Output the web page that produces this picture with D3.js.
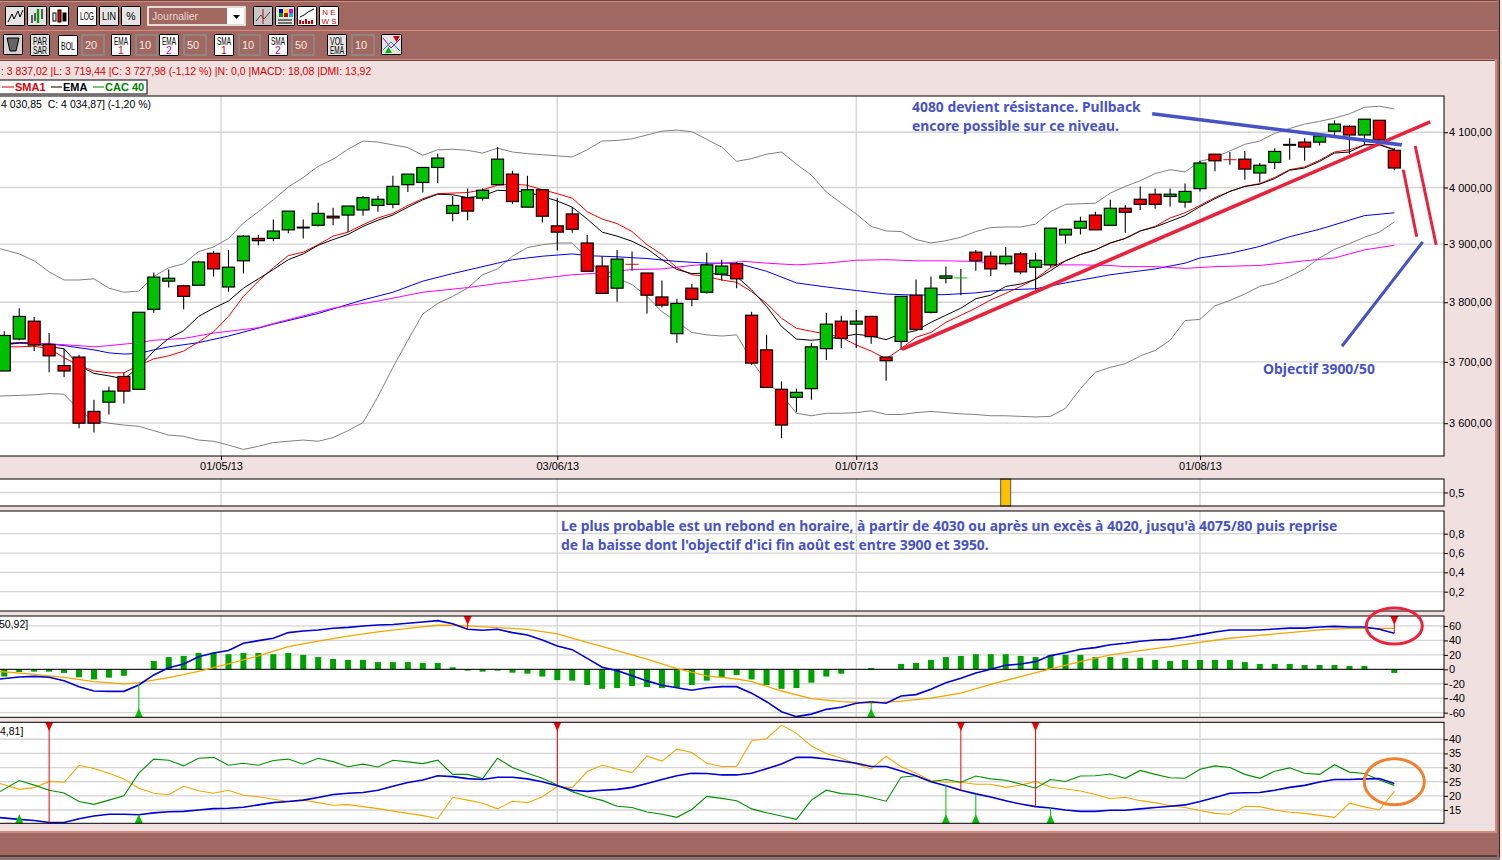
<!DOCTYPE html>
<html>
<head>
<meta charset="utf-8">
<title>CAC 40</title>
<script src="https://cdn.jsdelivr.net/npm/d3@7"></script>
<style>
  html, body { margin: 0; padding: 0; background: #f0e0e0; overflow: hidden; }
  text { font-family: "Liberation Sans", Arial, sans-serif; }
  .note { font-family: "Noto Sans", sans-serif; font-weight: 700; font-size: 13.9px; fill: #4652c6; }
  .axis path { display: none; }
  .axis line { stroke: #000; }
  .axis text { font-size: 11px; fill: #000; font-family: "Liberation Sans", Arial, sans-serif; }
</style>
</head>
<body>
<div id="chart"></div>
<script>
// prices
const open = [3685,3738,3768,3729,3694,3708,3619,3634,3676,3655,
  3788,3836,3828,3829,3884,3826,3871,3910,3910,3925,
  3929,3933,3949,3951,3960,3968,3970,4005,4009,4036,
  3954,3982,3981,4005,4024,3965,3996,3932,3953,3902,
  3862,3824,3866,3850,3809,3747,3824,3817,3848,3866,
  3778,3720,3655,3642,3656,3722,3768,3763,3776,3708,
  3734,3812,3783,3841,3841,3886,3879,3866,3883,3860,
  3864,3916,3928,3951,3933,3963,3979,3988,3984,3974,
  3998,4060,4051,4051,4026,4045,4077,4082,4082,4102,
  4111,4095,4122,4067];
const high = [3751,3790,3775,3748,3722,3712,3638,3659,3682,3783,
  3851,3856,3830,3871,3888,3890,3916,3916,3943,3958,
  3943,3973,3964,3967,3985,3985,4021,4024,4036,4061,
  3985,3998,3998,4073,4030,4021,3996,3981,3965,3916,
  3879,3890,3887,3850,3837,3806,3831,3885,3873,3869,
  3784,3745,3668,3656,3731,3782,3777,3787,3776,3708,
  3810,3839,3844,3861,3857,3890,3887,3895,3886,3885,
  3928,3926,3948,3957,3978,3969,4002,3998,3998,4007,
  4048,4060,4064,4066,4044,4071,4089,4089,4093,4122,
  4113,4124,4122,4071];
const low = [3685,3736,3718,3683,3675,3592,3585,3614,3632,3655,
  3782,3825,3788,3829,3844,3818,3849,3898,3905,3919,
  3910,3931,3933,3921,3950,3957,3963,3992,3991,4008,
  3940,3942,3977,4005,3971,3965,3938,3889,3920,3853,
  3815,3801,3854,3781,3791,3732,3793,3815,3837,3824,
  3695,3658,3576,3618,3638,3703,3723,3723,3730,3669,
  3720,3754,3781,3832,3812,3854,3845,3863,3848,3821,
  3860,3901,3917,3925,3933,3920,3960,3962,3966,3964,
  3993,4029,4041,4014,4009,4033,4050,4048,4076,4093,
  4060,4077,4082,4031];
const close = [3744,3776,3728,3710,3685,3600,3600,3652,3652,3783,
  3843,3841,3810,3869,3857,3860,3914,3906,3923,3958,
  3929,3954,3946,3967,3982,3979,4002,4024,4036,4053,
  3968,3958,3995,4051,3975,3996,3949,3921,3926,3853,
  3815,3874,3865,3812,3795,3798,3805,3864,3862,3840,
  3698,3658,3597,3650,3725,3763,3739,3768,3742,3702,
  3810,3754,3824,3845,3841.5,3871,3857,3879,3852,3872,
  3928,3926,3940,3925,3963,3956,3970,3970,3988,3993,
  4044,4048,4050,4033,4040,4065,4077,4073,4093,4115,
  4095,4124,4086,4035];

// bollinger 20
const bollUpper = [3892,3883,3871,3852,3838,3838,3840,3824,3817,3819,
  3844,3859,3866,3887,3895,3910,3937,3957,3978,4001,
  4018,4038,4051,4069,4084,4082,4077,4072,4058,4068,
  4069,4067,4062,4071,4064,4061,4059,4057,4055,4068,
  4084,4085,4088,4095,4102,4104,4101,4087,4073,4047,
  4052,4060,4064,4042,4022,3992,3972,3953,3931,3923,
  3922,3908,3902,3906,3912,3922,3929,3930,3930,3935,
  3957,3970,3971,3972,3990,4002,4012,4025,4032,4028,
  4047,4054,4066,4078,4084,4098,4107,4115,4120,4126,
  4134,4146,4148,4143];
const bollLower = [3644,3645,3646,3648,3647,3621,3604,3600,3597,3595,
  3588,3581,3579,3573,3571,3565,3558,3563,3569,3571,
  3573,3571,3577,3588,3601,3643,3691,3736,3780,3798,
  3810,3824,3847,3857,3879,3894,3899,3902,3902,3876,
  3847,3841,3830,3810,3784,3767,3749,3745,3743,3745,
  3702,3667,3646,3616,3612,3616,3616,3617,3620,3614,
  3614,3617,3619,3617,3615,3614,3612,3612,3611,3610,
  3611,3624,3656,3683,3691,3697,3710,3719,3736,3769,
  3771,3794,3803,3814,3827,3833,3844,3857,3876,3891,
  3901,3912,3921,3939];

// moving averages 10
const sma10 = [3725,3725,3726,3722,3707,3694,3685,3682,3682,3694,
  3705,3710,3718,3733,3750,3776,3810,3836,3859,3880,
  3886,3899,3914,3921,3934,3946,3954,3968,3980,3989,
  3990,3991,3996,4004,4006,4004,3996,3989,3981,3957,
  3944,3936,3922,3899,3882,3859,3847,3844,3838,3834,
  3818,3798,3773,3756,3751,3746,3741,3728,3718,3705,
  3722,3741,3749,3766,3778,3790,3804,3815,3827,3840,
  3859,3871,3882,3890,3902,3910,3923,3931,3946,3955,
  3968,3982,3993,4002,4007,4018,4032,4037,4049,4064,
  4068,4077,4078,4069];
const ema10 = [3728,3732,3731,3725,3722,3694,3681,3677,3672,3691,
  3718,3739,3752,3776,3790,3802,3824,3840,3856,3873,
  3883,3898,3908,3917,3931,3942,3951,3965,3978,3988,
  3987,3982,3985,3995,3994,3992,3984,3976,3965,3944,
  3921,3914,3905,3892,3873,3856,3849,3850,3847,3844,
  3821,3793,3759,3738,3736,3738,3742,3746,3743,3737,
  3747,3752,3766,3778,3790,3806,3812,3827,3831,3839,
  3854,3871,3882,3890,3902,3910,3923,3930,3940,3950,
  3966,3980,3993,4002,4006,4016,4031,4035,4047,4062,
  4064,4077,4077,4068];

// moving averages 50, read every few days
const ema50Idx = [0,1,3,4,6,7,8,9,10,11,13,15,18,21,24,26,28,30,33,34,36,38,39,41,43,45,47,49,51,53,55,57,59,61,63,65,66,67,69,71,74,77,79,80,82,84,86,88,90,91,93];
const ema50 = [3728,3731,3730,3727,3720,3715,3713,3714,3720,3725,3732,3743,3763,3781,3804,3817,3836,3849,3867,3873,3879,3883,3880,3878,3875,3870,3867,3867,3853,3833,3826,3820,3814,3812,3813,3816,3819,3821,3823,3833,3847,3857,3867,3876,3884,3896,3913,3926,3942,3950,3955];
const sma50Idx = [0,1,2,3,5,6,7,9,10,12,14,17,18,22,25,28,31,33,36,38,40,42,44,46,48,49.5,51,53,55,57,59,61,63,65,66,68,70,72,74,75,77,79,81,84,87,89,91,93];
const sma50 = [3731,3732,3731,3730,3727,3725,3727,3732,3736,3739,3748,3757,3764,3790,3802,3817,3825,3832,3841,3847,3850,3856,3857,3863,3867,3870,3867,3864,3867,3872,3873,3871,3871,3870,3867,3867,3864,3864,3863,3861,3861,3858,3861,3863,3871,3876,3890,3898];

// macd
const macdHist = [-10,-3.7,-3.2,-3.2,-5,-11,-14,-11.5,-9,0,
  11.5,17,18.5,22.6,23,21,22.6,22.6,21,22.6,
  20,17,14.3,13,13,10,10,10,8.8,8.8,
  2.8,-1.8,-3.2,-1.8,-4.6,-6,-10,-15,-15.7,-21.7,
  -27,-26,-23,-24.5,-26,-25,-21.7,-15.7,-11,-8,
  -14,-21.7,-27,-26,-18.5,-10,-6,0,1.8,0,
  7.4,8.8,13,17,18.5,21,21,21,18.5,17,
  20,20,20,17,17,15.7,16,13,11.5,13,
  13,13,13,10,7.4,7.4,7.4,6,6,6,
  4.6,4.6,0,-5];
const macdLine = [-13.4,-10.6,-9.7,-11,-15.7,-24,-30,-30.5,-30.5,-21.7,
  -7.8,2.3,7.4,17.5,22.6,26,36,39.7,43,50.8,
  53,54.5,56.8,58,60,61.4,62,63.7,65.5,67.4,
  63,55.4,54,55.4,50.8,47.5,40.6,32.3,27.2,15.2,
  2.8,-1.8,-8.8,-16,-22,-25.4,-29,-25.4,-24,-24,
  -33,-44.8,-58.6,-65.5,-62,-55.4,-52.6,-47,-44.8,-47,
  -37,-35,-27.7,-18.5,-12.5,-5,0,5.5,7.4,10.6,
  19,23,27.7,30,34,36,38.8,40.6,41.5,44.3,
  48,51.7,54.5,54.5,54.5,55.8,57,57,58.6,59.5,
  58.6,58.6,55.4,49.8];
const macdSigIdx = [0,2,4,6,8,9,11,13,15,17,19,21,23,25,27,29,30,31,33,35,37,39,41,43,45,47,49,50,52,54,56,58,60,62,64,66,68,70,72,74,76,78,80,82,84,86,88,90,93];
const macdSig = [-3,-7,-11,-17,-20,-18.5,-11.5,-2.8,7.4,18.5,31.4,39,46,51.7,56.8,61,61,60,57.7,55.4,49,37.4,26,14,1,-9,-13.4,-17,-30,-40.6,-44.8,-46.6,-44,-40,-33,-20.8,-10,0.5,10.6,20,26,31.4,37.4,43,47,50.8,54.5,56.8,56.8];

// dmi
const adx = [12.3,11.7,11.3,10.6,10.6,11.9,12.9,13.5,13.5,13.3,
  14,14.4,14.5,15,15.5,15.6,16,16.8,17.6,18,
  18.5,19.4,20.5,20.9,21.2,22,23.4,24.7,25.6,27.1,
  26.8,26.1,25.8,26.6,26.6,26,25,23.6,22,21.6,
  22,22.3,23,24.4,25.8,27.1,28,27.9,27.4,27.4,
  28,29.6,31.3,33.6,33.6,33,32.3,31.5,30.4,30.4,
  28.8,27.1,25,23.6,22,20.7,19.6,18.3,17.1,16.2,
  15.7,15,14.5,14.5,14.9,14.9,15.4,15.9,16.3,16.8,
  18,19.4,20.9,21.1,21.2,22,23,23.7,24.9,25.8,
  25.8,26,26.1,24.4];
const diPlus = [21.5,25.4,23.8,22,21,18,17,18.5,20,28,
  33,32.6,30.6,33.3,33.6,30.8,31.5,30.8,32.5,33,
  31.2,33.3,32.1,30.3,31.2,30.2,32.6,32,31.4,32.6,
  27.6,27.6,26.1,33.3,30,28,26.2,23.8,21.5,19.7,
  18.4,16.3,15.9,14.3,13.5,12.4,15.2,19.8,19.1,18.3,
  15.4,14,12.9,11.7,18.5,22,20.8,20.5,19.4,18.1,
  26.6,27.1,25,25.8,24.8,27,26,25.5,24.2,22.7,
  25.8,25.1,27,27.1,27.7,26.2,29,27.6,26.4,26.2,
  29.4,30.6,30,27.6,26.2,28.7,29.9,28,27.6,31,
  28.4,27.9,25.6,23.7];
const diMinus = [24.4,22.3,22.9,25.1,24.8,30.8,29.7,28,26,22.7,
  20.9,20.4,23.4,21.8,20.9,22,20.2,19.7,18.8,18,
  18.5,17.6,16.7,16.9,16.2,15.5,14.6,13.8,13,12,
  19.5,18.5,17.4,15.4,18.1,17.6,19.7,23.3,22.9,28.6,
  30.9,29.4,28.2,34.1,32.3,36.5,35.3,31.5,30.4,30.4,
  39.5,40.2,45,42.1,37.6,35,33.3,31.3,29.5,34,
  30.3,28,25.4,24.8,24.8,24.1,24.1,23,23.8,25.1,
  23.1,22.4,21.7,20.5,19,19.5,18.3,17.6,16.5,15.9,
  14.8,13.8,13.5,16.3,16.2,15,14.2,13.8,13.1,12.4,
  17.4,16.1,15,21.6];

// signals: candle index and the value the line reaches
const macdBuyIdx = [9,58], macdBuyVal = [-20,-44];
const macdSellIdx = [31,93], macdSellVal = [55,50];
const dmiBuyIdx = [1,9,63,65,70], dmiBuyVal = [13,13.3,24,20.7,16];
const dmiSellIdx = [3,37,64,69], dmiSellVal = [10.5,24,22,16.2];

// ticks
const dateTickIdx = [14.5,37,57,80];
const dateTickLabels = ["01/05/13","03/06/13","01/07/13","01/08/13"];
const priceTicks = [4100,4000,3900,3800,3700,3600];
const macdTicks = [60,40,20,0,-20,-40,-60];
const dmiTicks = [40,35,30,25,20,15];
const pane3Ticks = [0.8,0.6,0.4,0.2];

// hand drawn lines, as [candle index, price]
const trendUp = [[60.06,3721],[95.4,4119]];
const resist = [[76.8,4134],[93.5,4077]];
const dropA = [[93.6,4032],[94.5,3913]];
const dropB = [[94.4,4075],[95.8,3899]];
const target = [[89.5,3726],[94.9,3904]];

const width = 1502, height = 860, plotRight = 1444;
const fr = d3.format(".2f");
const frNum = v => {
  const s = fr(v).replace(".", ",");
  return s.length > 6 ? s[0] + " " + s.slice(1) : s;
};

const svg = d3.select("#chart").append("svg")
  .attr("width", width).attr("height", height)
  .style("display", "block");

svg.append("rect").attr("width", width).attr("height", height).attr("fill", "#f0e0e0");

const x = d3.scaleLinear().domain([0, 93]).range([4.3, 1394.3]);
const yPrice = d3.scaleLog().domain([3547.6, 4167]).range([456, 96]);
const yBar = d3.scaleLinear().domain([0, 1]).range([506, 479]);
const yEmpty = d3.scaleLinear().domain([0, 1.035]).range([611, 511]);
const yMacd = d3.scaleLinear().domain([-66.4, 73.8]).range([717.3, 616]);
const yDmi = d3.scaleLinear().domain([10.3, 46]).range([823.3, 722.3]);

// toolbars ------------------------------------------------------------
const chrome = svg.append("g");
const band = (x0, y0, w, h, c) => chrome.append("rect").attr("x", x0).attr("y", y0)
  .attr("width", w).attr("height", h).attr("fill", c);
band(0, 0, width, 60, "#a06860");
band(0, 0, width, 1, "#6f4a44");
band(0, 1, width, 1, "#d08a80");
band(0, 30, width, 1, "#d88a80");
band(0, 59, width, 1, "#d08a80");
band(0, 60, width, 1, "#6f4a44");
band(0, 831, width, 2, "#d08a80");
band(0, 833, width, 22, "#a06860");
band(0, 855, width, 2, "#5a3c38");
band(0, 857, width, 3, "#8a7472");
band(1495, 60, 2, 772, "#d08a80");
band(1497, 0, 2, 857, "#a06860");
band(1499, 0, 1, 857, "#3a2c2a");
band(1500, 0, 2, 860, "#efefef");
band(1400, 824, 94, 1, "#d8e4e4");

function button(x0, y0, w, h, lines, fill, colors) {
  const g = chrome.append("g").attr("transform", `translate(${x0},${y0})`);
  g.append("rect").attr("width", w).attr("height", h).attr("rx", 2).attr("fill", "#000");
  g.append("rect").attr("x", 1).attr("y", 1).attr("width", w - 2).attr("height", h - 2).attr("fill", fill || "#fff");
  lines.forEach((t, i) => {
    const one = lines.length == 1;
    const txt = g.append("text").text(t)
      .attr("x", w / 2).attr("y", one ? h / 2 + 4 : 10.5 + i * 9.5)
      .attr("text-anchor", "middle")
      .attr("font-size", 10.5)
      .attr("fill", colors ? colors[i] : "#000");
    if (t.length == 3) txt.attr("textLength", 14).attr("lengthAdjust", "spacingAndGlyphs");
  });
  return g;
}
function numBox(x0, y0, w, h, t) {
  const g = chrome.append("g").attr("transform", `translate(${x0},${y0})`);
  g.append("rect").attr("width", w).attr("height", h).attr("fill", "#a06860")
    .attr("stroke", "#8c8c8c").attr("stroke-width", 1.6);
  g.append("text").text(t).attr("x", 3).attr("y", 14).attr("font-size", 11).attr("fill", "#f4e8e2");
}

const b1 = button(5, 6, 20, 20, [], "#e4e4e4");
b1.append("path").attr("d", "M3,16 L7,8 L9,13 L13,5 L15,11 L18,4").attr("fill", "none").attr("stroke", "#000");
const b2 = button(27, 6, 20, 20, [], "#e4e4e4");
b2.append("path").attr("d", "M5,9V17M8,7V15M15,3V13").attr("stroke", "#000").attr("stroke-width", 1.2);
b2.append("path").attr("d", "M11,3V17").attr("stroke", "#00a000").attr("stroke-width", 2.4);
const b3 = button(49, 6, 20, 20, [], "#fff");
b3.append("rect").attr("x", 4).attr("y", 7).attr("width", 3).attr("height", 8).attr("stroke", "#000").attr("fill", "#fff");
b3.append("rect").attr("x", 9).attr("y", 4).attr("width", 3).attr("height", 12).attr("stroke", "#000").attr("fill", "#e00000");
b3.append("rect").attr("x", 14).attr("y", 7).attr("width", 3).attr("height", 8).attr("stroke", "#000").attr("fill", "#000");
button(77, 6, 20, 20, ["LOG"]);
button(99, 6, 20, 20, ["LIN"], "#e4e4e4");
button(121, 6, 20, 20, ["%"], "#e4e4e4");

chrome.append("rect").attr("x", 148).attr("y", 7).attr("width", 97).attr("height", 18)
  .attr("fill", "#a06860").attr("stroke", "#fff").attr("stroke-width", 1.5);
chrome.append("text").text("Journalier").attr("x", 152).attr("y", 20).attr("font-size", 10.5).attr("fill", "#e8d8d0");
chrome.append("rect").attr("x", 227).attr("y", 8).attr("width", 17).attr("height", 16).attr("fill", "#fff");
chrome.append("path").attr("d", "M233,15 h7 l-3.5,4 z").attr("fill", "#000");

const i1 = button(253, 6, 20, 20, [], "#c8c8c8");
i1.append("path").attr("d", "M3,15 L8,9 L11,13 L17,6").attr("fill", "none").attr("stroke", "#444");
i1.append("path").attr("d", "M10,3 V18").attr("stroke", "#d00000");
const i2 = button(275, 6, 20, 20, [], "#e4e4e4");
[["#0000d0",4,3],["#ffe000",9,3],["#e000e0",14,3],["#00a000",4,7],["#d00000",9,7],["#00c0c0",14,7]].forEach(c => {
  i2.append("rect").attr("x", c[1]).attr("y", c[2]).attr("width", 4).attr("height", 4).attr("fill", c[0]);
});
i2.append("path").attr("d", "M3,14H17M3,17H17").attr("stroke", "#000");
const i3 = button(297, 6, 20, 20, [], "#fff");
i3.append("path").attr("d", "M3,11 L7,9 L11,6 L17,3").attr("fill", "none").attr("stroke", "#000");
i3.append("path").attr("d", "M3,18V14M6,18V15M9,18V13M12,18V15M15,18V14").attr("stroke", "#d00000").attr("stroke-width", 2);
const i4 = button(319, 6, 20, 20, [], "#fff");
i4.append("text").text("N E").attr("x", 10).attr("y", 9).attr("text-anchor", "middle").attr("font-size", 8).attr("fill", "#d00000");
i4.append("text").text("W S").attr("x", 10).attr("y", 18).attr("text-anchor", "middle").attr("font-size", 8).attr("fill", "#d00000");

const t0 = button(3, 34, 20, 21, [], "#d4d4d4");
t0.append("path").attr("d", "M4,4 H16 L13,17 H7 Z").attr("fill", "#666").attr("stroke", "#000");
button(30, 34, 20, 22, ["PAR", "SAR"], "#e4e4e4");
button(58, 35, 20, 21, ["BOL"]);
numBox(82, 35, 22, 20, "20");
button(111, 34, 20, 22, ["EMA", "1"], "#fff", ["#000", "#e00000"]);
numBox(136, 35, 21, 20, "10");
button(159, 34, 20, 22, ["EMA", "2"], "#fff", ["#000", "#c000c0"]);
numBox(184, 35, 22, 20, "50");
button(214, 34, 20, 22, ["SMA", "1"], "#fff", ["#000", "#e00000"]);
numBox(239, 35, 21, 20, "10");
button(268, 34, 20, 22, ["SMA", "2"], "#fff", ["#000", "#c000c0"]);
numBox(292, 35, 22, 20, "50");
button(327, 34, 20, 22, ["VOL", "EMA"], "#e4e4e4");
numBox(352, 35, 22, 20, "10");
const t9 = button(381, 34, 21, 21, [], "#e4e4e4");
t9.append("path").attr("d", "M2,4 L10,14 L19,5").attr("fill", "none").attr("stroke", "#a000a0");
t9.append("path").attr("d", "M2,16 L10,8 L19,17").attr("fill", "none").attr("stroke", "#0090d0");
t9.append("path").attr("d", "M12,2 h7 l-3.5,6 z").attr("fill", "#d00000");
t9.append("path").attr("d", "M4,19 h7 l-3.5,-6 z").attr("fill", "#00b000");

// header texts
svg.append("text").text(": 3 837,02 |L: 3 719,44 |C: 3 727,98 (-1,12 %) |N: 0,0 |MACD: 18,08 |DMI: 13,92")
  .attr("x", 1).attr("y", 75).attr("font-size", 10.5).attr("fill", "#d00000");

// panes ---------------------------------------------------------------
const panes = [[96, 456], [479, 506], [511, 611], [616, 717.3], [722.3, 823.3]];
panes.forEach(p => {
  svg.append("rect").attr("x", -2).attr("y", p[0]).attr("width", plotRight + 2).attr("height", p[1] - p[0])
    .attr("fill", "#fff");
});

const grid = svg.append("g").attr("stroke", "#d4d4d4").attr("stroke-width", 1.3);
function hGrid(ticks, scale) {
  grid.append("g").selectAll("line").data(ticks).enter().append("line")
    .attr("x1", 0).attr("x2", plotRight)
    .attr("y1", d => scale(d)).attr("y2", d => scale(d));
}
hGrid(priceTicks, yPrice);
hGrid([0.5], yBar);
hGrid(pane3Ticks, yEmpty);
hGrid(macdTicks, yMacd);
hGrid(dmiTicks, yDmi);
panes.forEach(p => {
  grid.append("g").selectAll("line").data(dateTickIdx).enter().append("line")
    .attr("x1", d => x(d)).attr("x2", d => x(d))
    .attr("y1", p[0]).attr("y2", p[1]);
});

// the first point is pulled to the left edge, the series goes on off screen
const lineFor = (scale, values) => d3.line()
  .x((d, i) => i == 0 ? 0 : x(i))
  .y(d => scale(d))(values);
const lineSparse = (scale, idx, values) => d3.line()
  .x((d, i) => i == 0 ? 0 : x(idx[i]))
  .y(d => scale(d))(values);
function drawPath(d, color, w, crisp) {
  return svg.append("path").attr("d", d).attr("fill", "none").attr("stroke", color).attr("stroke-width", w)
    .attr("shape-rendering", crisp ? "crispEdges" : "auto");
}

// price pane
drawPath(lineFor(yPrice, bollUpper), "#808080", 1);
drawPath(lineFor(yPrice, bollLower), "#808080", 1);
drawPath(lineSparse(yPrice, ema50Idx, ema50), "#0000f0", 1);
drawPath(lineSparse(yPrice, sma50Idx, sma50), "#ff00ff", 1);
drawPath(lineFor(yPrice, sma10), "#f00000", 1);
drawPath(lineFor(yPrice, ema10), "#000", 1);

const candles = open.map((o, i) => ({ i, o, h: high[i], l: low[i], c: close[i] }));
const candle = svg.append("g").selectAll("g").data(candles).enter().append("g");
candle.append("line")
  .attr("x1", d => x(d.i)).attr("x2", d => x(d.i))
  .attr("y1", d => yPrice(d.h)).attr("y2", d => yPrice(d.l))
  .attr("stroke", "#000").attr("stroke-width", 1.1);
candle.each(function(d) {
  const g = d3.select(this);
  const gap = Math.abs(d.o - d.c);
  if (gap < 2) {
    // doji: just a bar across
    g.append("line")
      .attr("x1", x(d.i) - 6.5).attr("x2", x(d.i) + 6.5)
      .attr("y1", yPrice(d.c)).attr("y2", yPrice(d.c))
      .attr("stroke", gap == 0 ? "#000" : d.c > d.o ? "#00c000" : "#f00000")
      .attr("stroke-width", gap == 0 ? 2 : 1);
  } else {
    g.append("rect")
      .attr("x", x(d.i) - 6).attr("width", 12)
      .attr("y", yPrice(Math.max(d.o, d.c)))
      .attr("height", Math.abs(yPrice(d.o) - yPrice(d.c)))
      .attr("fill", d.c > d.o ? "#00c000" : "#f00000")
      .attr("stroke", "#000").attr("stroke-width", 1.2);
  }
});

// alert bar pane
svg.append("rect")
  .attr("x", x(67) - 5).attr("width", 10)
  .attr("y", yBar(1)).attr("height", yBar(0) - yBar(1))
  .attr("fill", "#ffc000").attr("stroke", "#555");

// macd pane
svg.append("g").selectAll("rect").data(macdHist).enter().append("rect")
  .attr("x", (d, i) => x(i) - 3).attr("width", 6)
  .attr("y", d => yMacd(Math.max(d, 0)))
  .attr("height", d => Math.abs(yMacd(d) - yMacd(0)))
  .attr("fill", "#00a000");
svg.append("line").attr("x1", 0).attr("x2", plotRight)
  .attr("y1", yMacd(0)).attr("y2", yMacd(0)).attr("stroke", "#000").attr("stroke-width", 1);
drawPath(lineSparse(yMacd, macdSigIdx, macdSig), "#f0a800", 1.3);
drawPath(lineFor(yMacd, macdLine), "#0000d0", 1.6);

// dmi pane
drawPath(lineFor(yDmi, diMinus), "#f0a800", 1.1);
drawPath(lineFor(yDmi, diPlus), "#009000", 1.1);
drawPath(lineFor(yDmi, adx), "#0000d0", 1.6);

// buy and sell arrows
function signals(idx, vals, scale, top, bottom, isBuy) {
  const color = isBuy ? "#00c000" : "#f00000";
  idx.forEach((k, n) => {
    const px = x(k);
    const edge = isBuy ? bottom : top;
    svg.append("line").attr("x1", px).attr("x2", px)
      .attr("y1", edge).attr("y2", scale(vals[n]))
      .attr("stroke", color).attr("stroke-width", 1);
    const tri = isBuy
      ? `M${px - 4},${edge} L${px + 4},${edge} L${px},${edge - 9} Z`
      : `M${px - 4},${edge} L${px + 4},${edge} L${px},${edge + 9} Z`;
    svg.append("path").attr("d", tri).attr("fill", color);
  });
}
signals(macdBuyIdx, macdBuyVal, yMacd, 616, 717.3, true);
signals(macdSellIdx, macdSellVal, yMacd, 616, 717.3, false);
signals(dmiBuyIdx, dmiBuyVal, yDmi, 722.3, 823.3, true);
signals(dmiSellIdx, dmiSellVal, yDmi, 722.3, 823.3, false);

// frames
panes.forEach(p => {
  svg.append("rect").attr("x", -2).attr("y", p[0]).attr("width", plotRight + 2).attr("height", p[1] - p[0])
    .attr("fill", "none").attr("stroke", "#000").attr("stroke-width", 1);
});

// axes
function rightAxis(scale, ticks, fmt) {
  svg.append("g").attr("class", "axis").attr("transform", `translate(${plotRight},0)`)
    .call(d3.axisRight(scale).tickValues(ticks).tickFormat(fmt).tickSize(4).tickPadding(1));
}
rightAxis(yPrice, priceTicks, frNum);
rightAxis(yBar, [0.5], () => "0,5");
rightAxis(yEmpty, pane3Ticks, d => d3.format(".1f")(d).replace(".", ","));
rightAxis(yMacd, macdTicks, d => d);
rightAxis(yDmi, dmiTicks, d => d);
svg.append("g").attr("class", "axis").attr("transform", "translate(0,456)")
  .call(d3.axisBottom(x).tickValues(dateTickIdx)
    .tickFormat((d, i) => dateTickLabels[i]).tickSize(4).tickPadding(2));

// legend box
const leg = svg.append("g");
leg.append("rect").attr("x", -2).attr("y", 80).attr("width", 149).attr("height", 14)
  .attr("fill", "#fff").attr("stroke", "#000");
[[2, 14, "#e00000", "SMA1"], [51, 62, "#000", "EMA"], [93, 104, "#008000", "CAC 40"]].forEach(d => {
  leg.append("line").attr("x1", d[0]).attr("x2", d[1]).attr("y1", 87).attr("y2", 87).attr("stroke", d[2]);
  leg.append("text").text(d[3]).attr("x", d[1] + 1).attr("y", 91)
    .attr("font-size", 11).attr("font-weight", 700).attr("fill", d[2]);
});

svg.append("text").text("4 030,85  C: 4 034,87] (-1,20 %)").attr("x", 1).attr("y", 108)
  .attr("font-size", 10.5).attr("xml:space", "preserve");
svg.append("text").text("50,92]").attr("x", -1).attr("y", 628).attr("font-size", 10.5);
svg.append("text").text("4,81]").attr("x", 0).attr("y", 735).attr("font-size", 10.5);

// annotations drawn over the chart
const hand = d3.line().x(d => x(d[0])).y(d => yPrice(d[1]));
drawPath(hand(trendUp), "#e8243c", 3.6);
drawPath(hand(resist), "#4652c6", 3.6);
drawPath(hand(dropA), "#e8243c", 3);
drawPath(hand(dropB), "#e8243c", 3);
drawPath(hand(target), "#4652c6", 3);

svg.append("text").attr("class", "note").text("4080 devient résistance. Pullback").attr("x", 912).attr("y", 112);
svg.append("text").attr("class", "note").text("encore possible sur ce niveau.").attr("x", 912).attr("y", 131);
svg.append("text").attr("class", "note").text("Objectif 3900/50").attr("x", 1263).attr("y", 374);
svg.append("text").attr("class", "note").text("Le plus probable est un rebond en horaire, à partir de 4030 ou après un excès à 4020, jusqu'à 4075/80 puis reprise").attr("x", 561).attr("y", 531);
svg.append("text").attr("class", "note").text("de la baisse dont l'objectif d'ici fin août est entre 3900 et 3950.").attr("x", 561).attr("y", 550);

svg.append("ellipse").attr("cx", x(93)).attr("cy", yMacd(60)).attr("rx", 28).attr("ry", 18)
  .attr("fill", "none").attr("stroke", "#e8243c").attr("stroke-width", 3);
svg.append("ellipse").attr("cx", x(93)).attr("cy", yDmi(25)).attr("rx", 30).attr("ry", 23)
  .attr("fill", "none").attr("stroke", "#f08030").attr("stroke-width", 3);
</script>
</body>
</html>
